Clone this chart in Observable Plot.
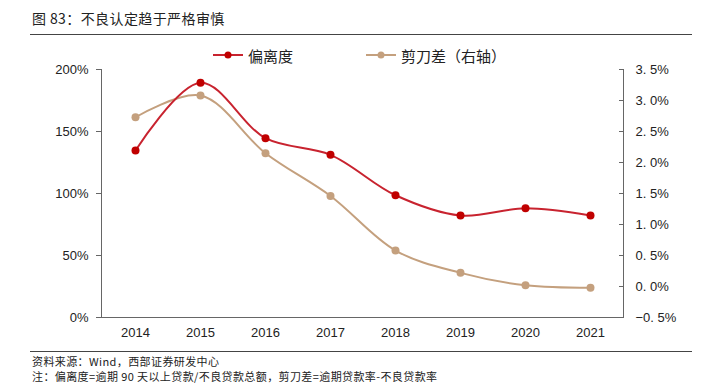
<!DOCTYPE html>
<html>
<head>
<meta charset="utf-8">
<script src="https://cdn.jsdelivr.net/npm/d3@7"></script>
<script src="https://cdn.jsdelivr.net/npm/@observablehq/plot@0.6"></script>
<style>
  html, body { margin: 0; padding: 0; background: #fff; }
  #wrap { position: relative; width: 702px; height: 384px; overflow: hidden; font-family: "Noto Sans CJK SC", "Liberation Sans", sans-serif; color: #222; }
  #title { position: absolute; left: 32px; top: 8px; font-size: 14px; line-height: 20px; letter-spacing: 0.4px; }
  .hr { position: absolute; left: 30px; width: 662px; height: 0; border-top: 1.5px solid #444; }
  #legend { position: absolute; top: 44px; left: 0; width: 702px; height: 22px; font-size: 15px; }
  .lg { position: absolute; top: 0; display: flex; align-items: center; height: 22px; }
  .lg svg { margin-right: 5px; }
  .foot { position: absolute; left: 32px; font-size: 11px; line-height: 14px; color: #222; letter-spacing: 0.4px; }
  #chart { position: absolute; left: 0; top: 0; }
</style>
</head>
<body>
<div id="wrap">
  <div id="chart"></div>
  <div id="title">图 83：不良认定趋于严格审慎</div>
  <div class="hr" style="top:34px"></div>
  <div id="legend"></div>
  <div class="hr" style="top:351px; border-top-width:1px;"></div>
  <div class="foot" style="top:354px">资料来源：Wind，西部证券研发中心</div>
  <div class="foot" style="top:369px">注：偏离度=逾期 90 天以上贷款/不良贷款总额，剪刀差=逾期贷款率-不良贷款率</div>
</div>
<script>
const years = ["2014", "2015", "2016", "2017", "2018", "2019", "2020", "2021"];
const deviation = [134.7, 189.3, 144.6, 131.2, 98.6, 82.3, 88.1, 82.3];   // 偏离度 (%), left axis
const scissors = [2.73, 3.08, 2.15, 1.46, 0.58, 0.22, 0.02, -0.02];       // 剪刀差 (%), right axis
const leftTicks = [0, 50, 100, 150, 200];
const rightTicks = [-0.5, 0, 0.5, 1.0, 1.5, 2.0, 2.5, 3.0, 3.5];
const seriesNames = ["偏离度", "剪刀差（右轴）"];

const redLine = "#c8232f", redDot = "#c00000";
const tanLine = "#c4a07e", tanDot = "#c4a07e";
const axisColor = "#666";

// map right-axis values onto the left-axis scale
const toLeft = v => (v + 0.5) * 50;

const devData = years.map((y, i) => ({year: y, value: deviation[i]}));
const scData = years.map((y, i) => ({year: y, value: toLeft(scissors[i])}));

const fmtRight = v => {
  const s = Math.abs(v).toFixed(1).replace(".", ". ");
  return (v < 0 ? "−" : "") + s + "%";
};

const chart = Plot.plot({
  width: 702,
  height: 384,
  marginLeft: 101,
  marginRight: 79,
  marginTop: 69,
  marginBottom: 67,
  style: {fontFamily: "'Liberation Sans', Arial, sans-serif", fontSize: "12px", color: "#222", background: "transparent"},
  x: {type: "point", domain: years, padding: 0.5, align: 0.5},
  y: {domain: [0, 200]},
  marks: [
    Plot.frame({anchor: "left", stroke: axisColor}),
    Plot.frame({anchor: "right", stroke: axisColor}),
    Plot.frame({anchor: "bottom", stroke: axisColor}),
    Plot.axisX({tickSize: 0, tickPadding: 10, label: null, fontSize: 13}),
    Plot.axisY({anchor: "left", ticks: leftTicks, tickSize: 5, tickPadding: 8, tickFormat: d => d + "%", label: null, stroke: axisColor, fontSize: 13}),
    Plot.axisY({anchor: "right", ticks: rightTicks.map(toLeft), tickSize: -5, tickPadding: 17, tickFormat: d => fmtRight(d / 50 - 0.5), label: null, stroke: axisColor, fontSize: 13}),
    Plot.line(scData, {x: "year", y: "value", stroke: tanLine, strokeWidth: 2, curve: "catmull-rom"}),
    Plot.dot(scData, {x: "year", y: "value", r: 4, fill: tanDot, stroke: "none"}),
    Plot.line(devData, {x: "year", y: "value", stroke: redLine, strokeWidth: 2, curve: "catmull-rom"}),
    Plot.dot(devData, {x: "year", y: "value", r: 4, fill: redDot, stroke: "none"})
  ]
});
document.getElementById("chart").appendChild(chart);

// legend
const legend = document.getElementById("legend");
const legendItems = [
  {name: seriesNames[0], line: redLine, dot: redDot, left: 213},
  {name: seriesNames[1], line: tanLine, dot: tanDot, left: 366}
];
for (const it of legendItems) {
  const d = document.createElement("div");
  d.className = "lg";
  d.style.left = it.left + "px";
  d.innerHTML = `<svg width="30" height="10"><line x1="0" y1="5" x2="30" y2="5" stroke="${it.line}" stroke-width="2"/><circle cx="15" cy="5" r="3.5" fill="${it.dot}"/></svg><span>${it.name}</span>`;
  legend.appendChild(d);
}
</script>
</body>
</html>
